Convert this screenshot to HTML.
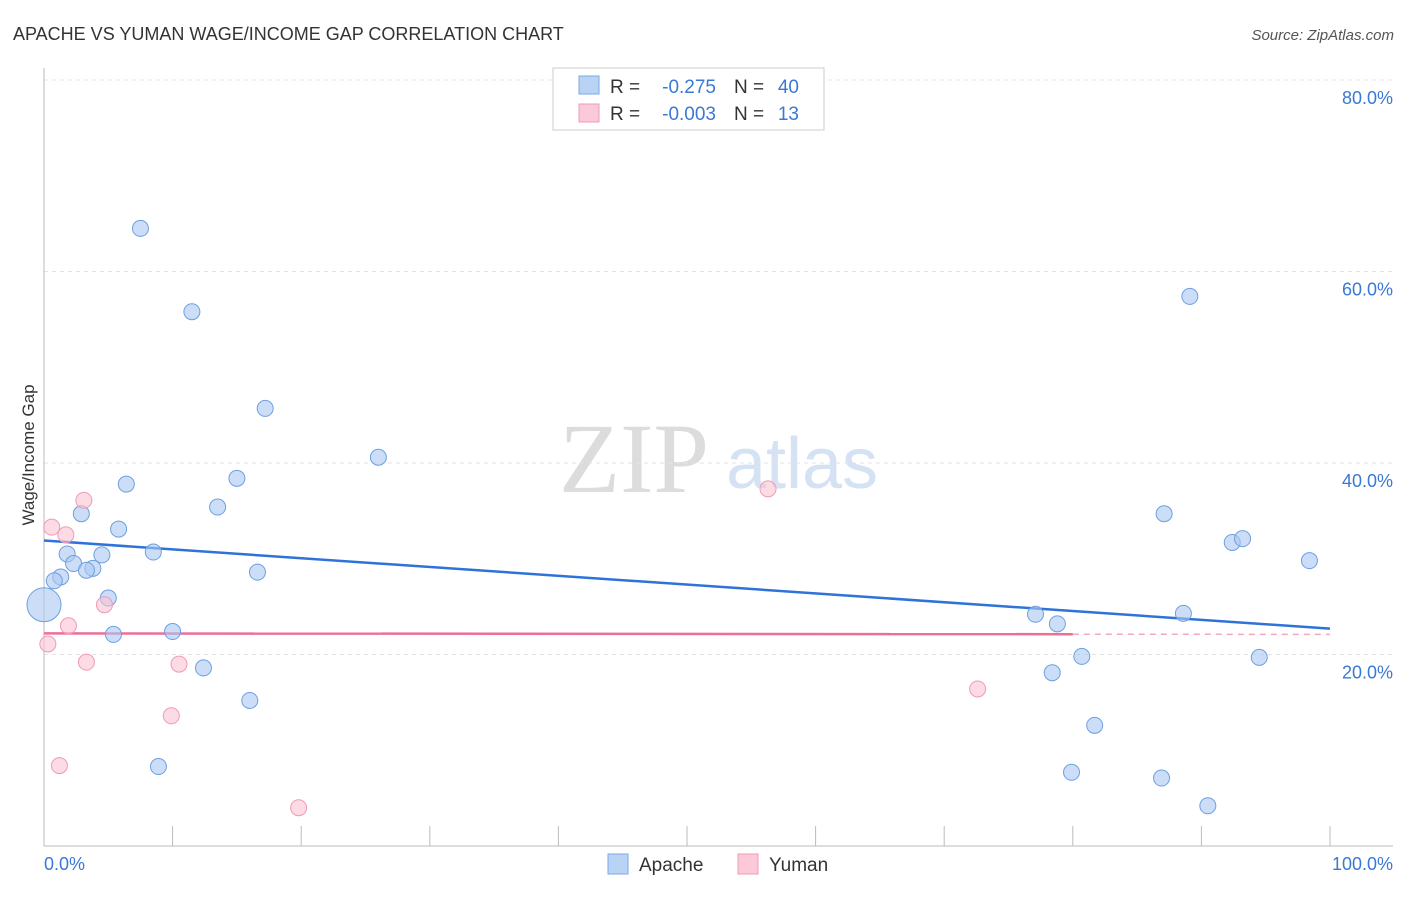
<!DOCTYPE html>
<html><head><meta charset="utf-8"><style>
body{margin:0;background:#fff;font-family:"Liberation Sans",sans-serif;}
</style></head><body>
<svg id="chart" width="1406" height="892" xmlns="http://www.w3.org/2000/svg" style="font-family:'Liberation Sans',sans-serif">
<text x="13" y="40" font-size="18" fill="#333">APACHE VS YUMAN WAGE/INCOME GAP CORRELATION CHART</text>
<text x="1394" y="40" font-size="15" fill="#555" font-style="italic" text-anchor="end">Source: ZipAtlas.com</text>
<g>
<text x="634" y="492" font-size="100" fill="#dcdcdc" style="font-family:'Liberation Serif',serif" text-anchor="middle">ZIP</text>
<text x="802" y="488" font-size="72" fill="#d5e2f4" text-anchor="middle">atlas</text>
</g>
<g id="grid"></g>
<g id="axes"></g>
<g id="trend"></g>
<g id="points"></g>
<text transform="translate(34,455) rotate(-90)" font-size="17" fill="#333" text-anchor="middle">Wage/Income Gap</text>
<g>
<rect x="553" y="68" width="271" height="62" fill="#fff" stroke="#ccc"/>
<rect x="579" y="76" width="20" height="18" fill="#b9d3f5" stroke="#7aa8e6"/>
<text x="610" y="93" font-size="19" fill="#333">R =</text>
<text x="716" y="93" font-size="19" fill="#3a78d6" text-anchor="end">-0.275</text>
<text x="734" y="93" font-size="19" fill="#333">N =</text>
<text x="799" y="93" font-size="19" fill="#3a78d6" text-anchor="end">40</text>
<rect x="579" y="104" width="20" height="18" fill="#fbc9d7" stroke="#f19ab4"/>
<text x="610" y="120" font-size="19" fill="#333">R =</text>
<text x="716" y="120" font-size="19" fill="#3a78d6" text-anchor="end">-0.003</text>
<text x="734" y="120" font-size="19" fill="#333">N =</text>
<text x="799" y="120" font-size="19" fill="#3a78d6" text-anchor="end">13</text>
</g>
<g>
<rect x="608" y="854" width="20" height="20" fill="#b9d3f5" stroke="#7aa8e6"/>
<text x="639" y="871" font-size="19" fill="#333">Apache</text>
<rect x="738" y="854" width="20" height="20" fill="#fbc9d7" stroke="#f19ab4"/>
<text x="769" y="871" font-size="19" fill="#333">Yuman</text>
</g>
</svg>
<script>
const apacheX=[7.5,11.5,17.2,26.0,6.4,15.0,13.5,2.9,5.8,1.8,4.5,8.5,2.3,3.8,3.3,1.3,0.8,0,5.0,16.6,5.4,10.0,12.4,16.0,8.9,89.1,87.1,92.4,93.2,98.4,77.1,78.8,88.6,80.7,78.4,94.5,81.7,79.9,86.9,90.5];
const apacheY=[64.5,55.8,45.7,40.6,37.8,38.4,35.4,34.7,33.1,30.5,30.4,30.7,29.5,29.0,28.8,28.1,27.7,25.2,25.9,28.6,22.1,22.4,18.6,15.2,8.3,57.4,34.7,31.7,32.1,29.8,24.2,23.2,24.3,19.8,18.1,19.7,12.6,7.7,7.1,4.2];
const yumanX=[3.1,0.6,1.7,4.7,1.9,0.3,3.3,10.5,9.9,1.2,19.8,56.3,72.6];
const yumanY=[36.1,33.3,32.5,25.2,23.0,21.1,19.2,19.0,13.6,8.4,4.0,37.3,16.4];
const apacheTrend=[31.9,22.7];
const yumanTrend=[22.2,22.1];
const yTicks=[20,40,60,80];
const yTickLabels=["20.0%","40.0%","60.0%","80.0%"];
const xTickLabels=["0.0%","100.0%"];
const NS="http://www.w3.org/2000/svg";
const X=v=>44+v*12.86, Y=v=>846-v*9.575;
function mk(tag,attrs,parent){const e=document.createElementNS(NS,tag);for(const k in attrs)e.setAttribute(k,attrs[k]);parent.appendChild(e);return e;}
const grid=document.getElementById('grid'),axes=document.getElementById('axes'),trend=document.getElementById('trend'),pts=document.getElementById('points');
yTicks.forEach((t,i)=>{
 const l=mk('line',{x1:44,x2:1393,y1:Y(t),y2:Y(t),stroke:'#e3e3e3','stroke-dasharray':'4 4'},grid);
 
 
 const tx=mk('text',{x:1393,y:Y(t)+24,'font-size':18,fill:'#3a78d6','text-anchor':'end'},grid);
 tx.textContent=yTickLabels[i];
 
 
});
const ya=mk('line',{x1:44,x2:44,y1:68,y2:846,stroke:'#bbb'},axes);


const xa=mk('line',{x1:44,x2:1393,y1:846,y2:846,stroke:'#bbb'},axes);


for(let v=0;v<=100;v+=10){
 const t=mk('line',{x1:X(v),x2:X(v),y1:826,y2:846,stroke:'#bbb'},axes);
 
 
}
[[0,'start'],[100,'end']].forEach((p,i)=>{
 const t=mk('text',{x:i?1393:44,y:870,'font-size':18,fill:'#3a78d6','text-anchor':p[1]},axes);
 t.textContent=xTickLabels[i];
 
 
});
const tb=mk('line',{x1:X(0),y1:Y(apacheTrend[0]),x2:X(100),y2:Y(apacheTrend[1]),stroke:'#2f73d9','stroke-width':2.5},trend);


const yAt=v=>yumanTrend[0]+(yumanTrend[1]-yumanTrend[0])*v/100;
const tp=mk('line',{x1:X(0),y1:Y(yAt(0)),x2:X(80),y2:Y(yAt(80)),stroke:'#ec6f98','stroke-width':2.5},trend);


const tpd=mk('line',{x1:X(80),y1:Y(yAt(80)),x2:X(100),y2:Y(yAt(100)),stroke:'#f2a9c0','stroke-width':1.5,'stroke-dasharray':'6 5'},trend);


apacheX.forEach((v,i)=>{
 const c=mk('circle',{cx:X(v),cy:Y(apacheY[i]),r:v===0?17:8,fill:'rgba(170,200,242,0.6)',stroke:'#6d9fe0','stroke-width':1},pts);
 
 
});
yumanX.forEach((v,i)=>{
 const c=mk('circle',{cx:X(v),cy:Y(yumanY[i]),r:8,fill:'rgba(250,195,212,0.6)',stroke:'#ef9ab6','stroke-width':1},pts);
 
 
});
</script>
</body></html>
